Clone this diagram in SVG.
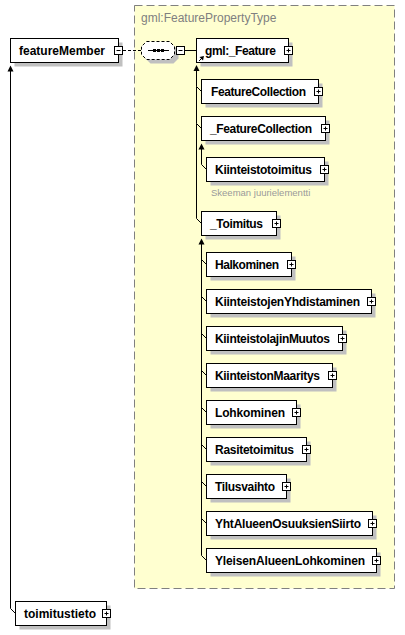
<svg xmlns="http://www.w3.org/2000/svg" width="405" height="635" viewBox="0 0 405 635">
<style>
.box{fill:#fff;stroke:#000;stroke-width:1}
.sh{fill:#c0c0c0}
.lbl{font-family:"Liberation Sans",Arial,sans-serif;font-weight:bold;font-size:12px;fill:#000}
.btn{fill:#fff;stroke:#000;stroke-width:1}
.pm{stroke:#000;stroke-width:1;fill:none}
.ln{stroke:#000;stroke-width:1;fill:none}
.arr{fill:#000}
</style>
<rect width="405" height="635" fill="#fff"/>
<g id="complexType">
<rect x="134.5" y="5.5" width="260" height="583" fill="#ffffd0" stroke="#808080" stroke-width="1" stroke-dasharray="8,4"/>
<text x="141" y="22" font-family="Liberation Sans,Arial,sans-serif" font-size="12" fill="#808080">gml:FeaturePropertyType</text>
</g>
<g id="connectors">
<line class="ln" x1="123" y1="50.5" x2="141.5" y2="50.5" stroke-dasharray="3,2"/>
<line class="ln" x1="185" y1="50.5" x2="196.5" y2="50.5"/>
<polyline class="ln" points="196.5,70 196.5,86.5 201.5,91.5"/>
<polyline class="ln" points="196.5,86.5 196.5,123.5 201.5,128.5"/>
<polyline class="ln" points="196.5,123.5 196.5,218.5 201.5,223.5"/>
<polygon class="arr" points="196.5,65 193.5,71 199.5,71"/>
<polyline class="ln" points="201.5,148 201.5,164.5 206.5,169.5"/>
<polygon class="arr" points="201.5,143.5 198.5,149.5 204.5,149.5"/>
<polygon class="arr" points="201.5,238.5 198.5,244.5 204.5,244.5"/>
<polyline class="ln" points="201.5,243 201.5,555.5 206.5,560.5"/>
<line class="ln" x1="201.5" y1="259.5" x2="206.5" y2="264.5"/>
<line class="ln" x1="201.5" y1="296.5" x2="206.5" y2="301.5"/>
<line class="ln" x1="201.5" y1="333.5" x2="206.5" y2="338.5"/>
<line class="ln" x1="201.5" y1="370.5" x2="206.5" y2="375.5"/>
<line class="ln" x1="201.5" y1="407.5" x2="206.5" y2="412.5"/>
<line class="ln" x1="201.5" y1="444.5" x2="206.5" y2="449.5"/>
<line class="ln" x1="201.5" y1="481.5" x2="206.5" y2="486.5"/>
<line class="ln" x1="201.5" y1="518.5" x2="206.5" y2="523.5"/>
<polygon class="arr" points="10.5,65.5 7.5,71.5 13.5,71.5"/>
<polyline class="ln" points="10.5,70 10.5,608.5 15.5,613.5"/>
</g>
<g id="featureMember">
<rect class="sh" x="14.5" y="42.5" width="108" height="24"/>
<rect class="box" x="10.5" y="38.5" width="108" height="24"/>
<text class="lbl" x="19" y="54.5" textLength="86">featureMember</text>
<rect class="btn" x="114.5" y="46.5" width="8" height="8"/>
<line class="pm" x1="116.5" y1="50.5" x2="120.5" y2="50.5"/>
</g>
<g id="sequence">
<path class="sh" d="M150.5,45.5 H173.5 L178.5,50.5 V58.5 L173.5,63.5 H150.5 L145.5,58.5 V50.5 Z"/>
<path d="M146.5,41.5 H169.5 L174.5,46.5 V54.5 L169.5,59.5 H146.5 L141.5,54.5 V46.5 Z" fill="#fff" stroke="#000" stroke-dasharray="3,2" stroke-linejoin="round"/>
<line class="ln" x1="148" y1="50.5" x2="169" y2="50.5"/>
<rect class="arr" x="153" y="49" width="3" height="3"/>
<rect class="arr" x="157" y="49" width="3" height="3"/>
<rect class="arr" x="161" y="49" width="3" height="3"/>
<rect class="btn" x="176.5" y="46.5" width="8" height="8"/>
<line class="pm" x1="178.5" y1="50.5" x2="182.5" y2="50.5"/>
</g>
<g id="gml_Feature">
<rect class="sh" x="200.5" y="42.5" width="92" height="24"/>
<rect class="box" x="196.5" y="38.5" width="92" height="24"/>
<text class="lbl" x="205" y="54.5" textLength="71">gml:_Feature</text>
<line class="ln" x1="199" y1="61" x2="202" y2="58"/>
<polygon class="arr" points="204,56 199.5,57 203,60.5"/>
<rect class="btn" x="284.5" y="46.5" width="8" height="8"/>
<path class="pm" d="M286.5,50.5 H290.5 M288.5,48.5 V52.5"/>
</g>
<g id="FeatureCollection">
<rect class="sh" x="205.5" y="83.5" width="117" height="24"/>
<rect class="box" x="201.5" y="79.5" width="117" height="24"/>
<text class="lbl" x="211" y="95.5" textLength="95">FeatureCollection</text>
<rect class="btn" x="314.5" y="87.5" width="8" height="8"/>
<path class="pm" d="M316.5,91.5 H320.5 M318.5,89.5 V93.5"/>
</g>
<g id="_FeatureCollection">
<rect class="sh" x="205.5" y="120.5" width="124" height="24"/>
<rect class="box" x="201.5" y="116.5" width="124" height="24"/>
<text class="lbl" x="210" y="132.5" textLength="102">_FeatureCollection</text>
<rect class="btn" x="321.5" y="124.5" width="8" height="8"/>
<path class="pm" d="M323.5,128.5 H327.5 M325.5,126.5 V130.5"/>
</g>
<g id="Kiinteistotoimitus">
<rect class="sh" x="210.5" y="161.5" width="118" height="24"/>
<rect class="box" x="206.5" y="157.5" width="118" height="24"/>
<text class="lbl" x="215" y="173.5" textLength="97">Kiinteistotoimitus</text>
<rect class="btn" x="320.5" y="165.5" width="8" height="8"/>
<path class="pm" d="M322.5,169.5 H326.5 M324.5,167.5 V171.5"/>
<text x="211" y="196" font-family="Liberation Sans,Arial,sans-serif" font-size="9.5" fill="#9a9a9a">Skeeman juurielementti</text>
</g>
<g id="_Toimitus">
<rect class="sh" x="205.5" y="215.5" width="75" height="24"/>
<rect class="box" x="201.5" y="211.5" width="75" height="24"/>
<text class="lbl" x="210" y="227.5" textLength="53">_Toimitus</text>
<rect class="btn" x="272.5" y="219.5" width="8" height="8"/>
<path class="pm" d="M274.5,223.5 H278.5 M276.5,221.5 V225.5"/>
</g>
<g id="Halkominen">
<rect class="sh" x="210.5" y="256.5" width="85" height="24"/>
<rect class="box" x="206.5" y="252.5" width="85" height="24"/>
<text class="lbl" x="215" y="268.5" textLength="64">Halkominen</text>
<rect class="btn" x="287.5" y="260.5" width="8" height="8"/>
<path class="pm" d="M289.5,264.5 H293.5 M291.5,262.5 V266.5"/>
</g>
<g id="KiinteistojenYhdistaminen">
<rect class="sh" x="210.5" y="293.5" width="165" height="24"/>
<rect class="box" x="206.5" y="289.5" width="165" height="24"/>
<text class="lbl" x="215" y="305.5" textLength="145">KiinteistojenYhdistaminen</text>
<rect class="btn" x="367.5" y="297.5" width="8" height="8"/>
<path class="pm" d="M369.5,301.5 H373.5 M371.5,299.5 V303.5"/>
</g>
<g id="KiinteistolajinMuutos">
<rect class="sh" x="210.5" y="330.5" width="136" height="24"/>
<rect class="box" x="206.5" y="326.5" width="136" height="24"/>
<text class="lbl" x="215" y="342.5" textLength="115">KiinteistolajinMuutos</text>
<rect class="btn" x="338.5" y="334.5" width="8" height="8"/>
<path class="pm" d="M340.5,338.5 H344.5 M342.5,336.5 V340.5"/>
</g>
<g id="KiinteistonMaaritys">
<rect class="sh" x="210.5" y="367.5" width="126" height="24"/>
<rect class="box" x="206.5" y="363.5" width="126" height="24"/>
<text class="lbl" x="215" y="379.5" textLength="105">KiinteistonMaaritys</text>
<rect class="btn" x="328.5" y="371.5" width="8" height="8"/>
<path class="pm" d="M330.5,375.5 H334.5 M332.5,373.5 V377.5"/>
</g>
<g id="Lohkominen">
<rect class="sh" x="210.5" y="404.5" width="90" height="24"/>
<rect class="box" x="206.5" y="400.5" width="90" height="24"/>
<text class="lbl" x="215" y="416.5" textLength="70">Lohkominen</text>
<rect class="btn" x="292.5" y="408.5" width="8" height="8"/>
<path class="pm" d="M294.5,412.5 H298.5 M296.5,410.5 V414.5"/>
</g>
<g id="Rasitetoimitus">
<rect class="sh" x="210.5" y="441.5" width="100" height="24"/>
<rect class="box" x="206.5" y="437.5" width="100" height="24"/>
<text class="lbl" x="215" y="453.5" textLength="79">Rasitetoimitus</text>
<rect class="btn" x="302.5" y="445.5" width="8" height="8"/>
<path class="pm" d="M304.5,449.5 H308.5 M306.5,447.5 V451.5"/>
</g>
<g id="Tilusvaihto">
<rect class="sh" x="210.5" y="478.5" width="80" height="24"/>
<rect class="box" x="206.5" y="474.5" width="80" height="24"/>
<text class="lbl" x="215" y="490.5" textLength="60">Tilusvaihto</text>
<rect class="btn" x="282.5" y="482.5" width="8" height="8"/>
<path class="pm" d="M284.5,486.5 H288.5 M286.5,484.5 V488.5"/>
</g>
<g id="YhtAlueenOsuuksienSiirto">
<rect class="sh" x="210.5" y="515.5" width="166" height="24"/>
<rect class="box" x="206.5" y="511.5" width="166" height="24"/>
<text class="lbl" x="215" y="527.5" textLength="146">YhtAlueenOsuuksienSiirto</text>
<rect class="btn" x="368.5" y="519.5" width="8" height="8"/>
<path class="pm" d="M370.5,523.5 H374.5 M372.5,521.5 V525.5"/>
</g>
<g id="YleisenAlueenLohkominen">
<rect class="sh" x="210.5" y="552.5" width="170" height="24"/>
<rect class="box" x="206.5" y="548.5" width="170" height="24"/>
<text class="lbl" x="215" y="564.5" textLength="150">YleisenAlueenLohkominen</text>
<rect class="btn" x="372.5" y="556.5" width="8" height="8"/>
<path class="pm" d="M374.5,560.5 H378.5 M376.5,558.5 V562.5"/>
</g>
<g id="toimitustieto">
<rect class="sh" x="19.5" y="605.5" width="91" height="24"/>
<rect class="box" x="15.5" y="601.5" width="91" height="24"/>
<text class="lbl" x="24" y="617.5" textLength="72">toimitustieto</text>
<rect class="btn" x="102.5" y="609.5" width="8" height="8"/>
<path class="pm" d="M104.5,613.5 H108.5 M106.5,611.5 V615.5"/>
</g>
</svg>
